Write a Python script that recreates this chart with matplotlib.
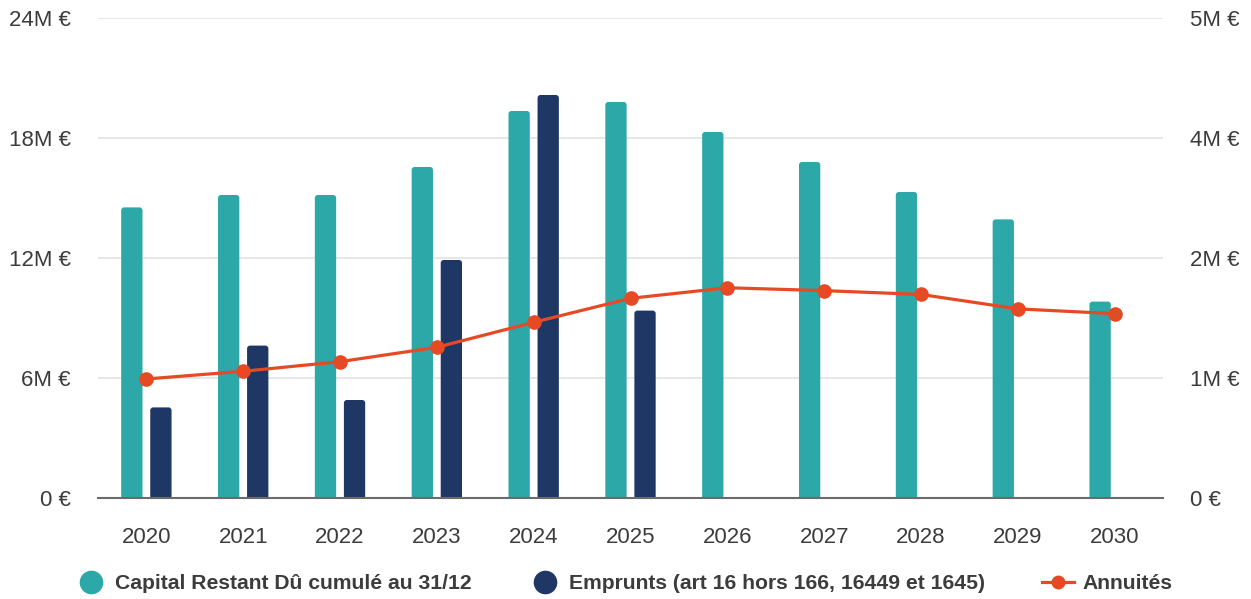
import numpy as np
import matplotlib.pyplot as plt
from matplotlib.lines import Line2D
from matplotlib.patches import FancyBboxPatch
from matplotlib.ticker import FuncFormatter, MultipleLocator

plt.rcParams['font.family'] = ['Liberation Sans', 'DejaVu Sans']

years = ['2020', '2021', '2022', '2023', '2024', '2025', '2026', '2027', '2028', '2029', '2030']
capital_restant = [14.53, 15.15, 15.15, 16.55, 19.35, 19.8, 18.3, 16.8, 15.3, 13.93, 9.82]   # M€
emprunts = [4.53, 7.62, 4.9, 11.9, 20.15, 9.37, 0, 0, 0, 0, 0]                               # M€
annuites = [1.24, 1.32, 1.42, 1.57, 1.83, 2.08, 2.19, 2.16, 2.12, 1.97, 1.92]                 # M€

teal = '#2ca8a9'
navy = '#1e3765'
orange = '#e64a24'
text_col = '#3c3c3c'

fig = plt.figure(figsize=(12.51, 5.99), dpi=100)
ax = fig.add_axes([0.0783, 0.1686, 0.8514, 0.8014])
ax2 = ax.twinx()

ax.set_xlim(-0.5, len(years) - 0.5)
ax.set_ylim(0, 24)
ax2.set_ylim(0, 5)


def rounded_bars(axis, xs, heights, width, color):
    # bars with slightly rounded tops; the bottom is pushed under the baseline
    bars = axis.bar(xs, heights, width=width, color=color, zorder=2)
    x_per_px = (axis.get_xlim()[1] - axis.get_xlim()[0]) / (axis.bbox.width)
    y_per_px = (axis.get_ylim()[1] - axis.get_ylim()[0]) / (axis.bbox.height)
    r = 3 * x_per_px
    for b in bars:
        h = b.get_height()
        b.remove()
        if h <= 0:
            continue
        p = FancyBboxPatch((b.get_x(), -0.3), b.get_width(), h + 0.3,
                           boxstyle=f'round,pad=0,rounding_size={r}',
                           mutation_aspect=y_per_px / x_per_px,
                           fc=color, ec='none', zorder=2)
        axis.add_patch(p)


x = np.arange(len(years))
w = 0.22
rounded_bars(ax, x - 0.15, capital_restant, w, teal)
rounded_bars(ax, x + 0.15, emprunts, w, navy)

ax2.plot(x, annuites, color=orange, lw=2.3, marker='o', ms=9.5, zorder=3)

ax.yaxis.set_major_locator(MultipleLocator(6))
ax2.yaxis.set_major_locator(MultipleLocator(1.25))


def euro_fmt(v, pos):
    v = round(v)
    return '0 €' if v == 0 else f'{v}M €'


ax.yaxis.set_major_formatter(FuncFormatter(euro_fmt))
ax2.yaxis.set_major_formatter(FuncFormatter(euro_fmt))

ax.set_xticks(x)
ax.set_xticklabels(years)
ax.grid(axis='y', color='#e3e3e3', lw=1.2, zorder=0)
ax.set_axisbelow(True)

for a in (ax, ax2):
    for s in a.spines.values():
        s.set_visible(False)
    a.tick_params(length=0, labelsize=16, labelcolor=text_col)
ax.spines['bottom'].set_visible(True)
ax.spines['bottom'].set_color('#6b6b6b')
ax.spines['bottom'].set_linewidth(1.5)
ax.spines['bottom'].set_zorder(4)
ax.tick_params(axis='x', pad=21)
ax.tick_params(axis='y', pad=19.5)
ax2.tick_params(axis='y', pad=19.5)

handles = [
    Line2D([], [], ls='none', marker='o', ms=16, color=teal),
    Line2D([], [], ls='none', marker='o', ms=16, color=navy),
    Line2D([], [], color=orange, lw=2.3, marker='o', ms=9),
]
labels = ['Capital Restant Dû cumulé au 31/12',
          'Emprunts (art 16 hors 166, 16449 et 1645)',
          'Annuités']
fig.legend(handles, labels, loc='center', bbox_to_anchor=(0.4985, 0.026), ncol=3,
           frameon=False, prop={'weight': 'bold', 'size': 15.2}, labelcolor=text_col,
           handlelength=1.5, handletextpad=0.4, columnspacing=2.7)

fig.savefig('out.png', dpi=100)
